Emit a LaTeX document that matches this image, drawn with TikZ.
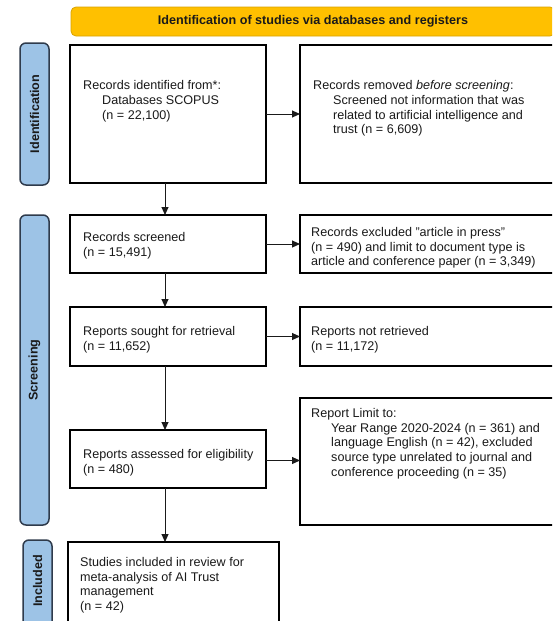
\documentclass[tikz,border=0pt]{standalone}
\usepackage{fontspec}
\setmainfont{Liberation Sans}
\usetikzlibrary{arrows.meta,calc}
\definecolor{bannerfill}{HTML}{FFC000}
\definecolor{bannerline}{HTML}{D9A300}
\definecolor{labelfill}{HTML}{9DC3E6}
\definecolor{labelline}{HTML}{2F3B4C}
\definecolor{txtcol}{HTML}{1A1A1A}
\begin{document}
\begin{tikzpicture}[x=1pt,y=-1pt,
  box/.style={draw=black, line width=1.8pt, fill=white, anchor=north west, outer sep=0pt, inner sep=0pt},
  phase/.style={draw=labelline, line width=1.5pt, fill=labelfill, rounded corners=6pt, anchor=north west, outer sep=0pt, inner sep=0pt},
  txt/.style={anchor=north west, align=left, inner sep=0pt, text=txtcol, font=\fontsize{12.6}{14.7}\selectfont},
  phasetxt/.style={rotate=90, inner sep=0pt, text=txtcol, font=\bfseries\fontsize{12.6}{15}\selectfont},
  flow/.style={line width=1pt, draw=txtcol, -{Triangle[length=8pt,width=7pt]}}]
\clip (0,0) rectangle (552,621);
\fill[white] (0,0) rectangle (552,621);

% banner
\node[draw=bannerline, fill=bannerfill, line width=0.8pt, rounded corners=5pt, anchor=north west,
      outer sep=0pt, minimum width=484pt, minimum height=29pt, text=txtcol,
      font=\bfseries\fontsize{12.6}{15}\selectfont] (ban) at (71,7) {Identification of studies via databases and registers};

% phase labels
\node[phase, minimum width=29pt, minimum height=142pt] (pid) at (20,43) {};
\node[phasetxt] (pidt) at (pid.center) {Identification};
\node[phase, minimum width=29pt, minimum height=310pt] (psc) at (20,215) {};
\node[phasetxt] (psct) at (psc.center) {Screening};
\node[phase, minimum width=29pt, minimum height=90pt] (pin) at (23,540) {};
\node[phasetxt] (pint) at (37.5,581) {Included};

% left column
\node[box, minimum width=196pt, minimum height=138pt] (b1) at (70,45) {};
\node[box, minimum width=196pt, minimum height=58pt] (scr) at (70,215) {};
\node[box, minimum width=196pt, minimum height=59pt] (sou) at (70,307) {};
\node[box, minimum width=196pt, minimum height=58pt] (ass) at (70,430) {};
\node[box, minimum width=211pt, minimum height=90pt] (stu) at (68,542) {};

% right column
\node[box, minimum width=260pt, minimum height=138pt] (b2) at (300,45) {};
\node[box, minimum width=260pt, minimum height=58pt] (exc) at (300,215) {};
\node[box, minimum width=260pt, minimum height=59pt] (nr) at (300,307) {};
\node[box, minimum width=260pt, minimum height=127pt] (lim) at (300,398) {};

% texts
\node[txt] (t1) at (83,80.5) {Records identified from*:\\\hspace*{19pt}Databases SCOPUS\\\hspace*{19pt}(n = 22,100)};
\node[txt] (t2) at (313,80.5) {Records removed \textit{before screening}:\\\hspace*{20pt}Screened not information that was\\\hspace*{20pt}related to artificial intelligence and\\\hspace*{20pt}trust (n = 6,609)};
\node[txt] (t3) at (83,232.5) {Records screened\\(n = 15,491)};
\node[txt] (t4) at (311,227) {Records excluded "article in press"\\(n = 490) and limit to document type is\\article and conference paper (n = 3,349)};
\node[txt] (t5) at (83,326) {Reports sought for retrieval\\(n = 11,652)};
\node[txt] (t6) at (311,326) {Reports not retrieved\\(n = 11,172)};
\node[txt] (t7) at (311,408) {Report Limit to:\\\hspace*{20pt}Year Range 2020-2024 (n = 361) and\\\hspace*{20pt}language English (n = 42), excluded\\\hspace*{20pt}source type unrelated to journal and\\\hspace*{20pt}conference proceeding (n = 35)};
\node[txt] (t8) at (83,449) {Reports assessed for eligibility\\(n = 480)};
\node[txt] (t9) at (80,557) {Studies included in review for\\meta-analysis of AI Trust\\management\\(n = 42)};

% connectors
\draw[flow] (b1.east) -- (b1.east -| b2.west);
\draw[flow] (scr.east) -- (scr.east -| exc.west);
\draw[flow] (sou.east) -- (sou.east -| nr.west);
\draw[flow] ([yshift=-1.5pt]ass.east) -- ([yshift=-1.5pt]ass.east -| lim.west);
\draw[flow] ([xshift=-3pt]b1.south) -- ([xshift=-3pt]scr.north);
\draw[flow] ([xshift=-3pt]scr.south) -- ([xshift=-3pt]sou.north);
\draw[flow] ([xshift=-3pt]sou.south) -- ([xshift=-3pt]ass.north);
\draw[flow] ([xshift=-3pt]ass.south) -- ([xshift=-3pt]ass.south |- stu.north);
\end{tikzpicture}
\end{document}
